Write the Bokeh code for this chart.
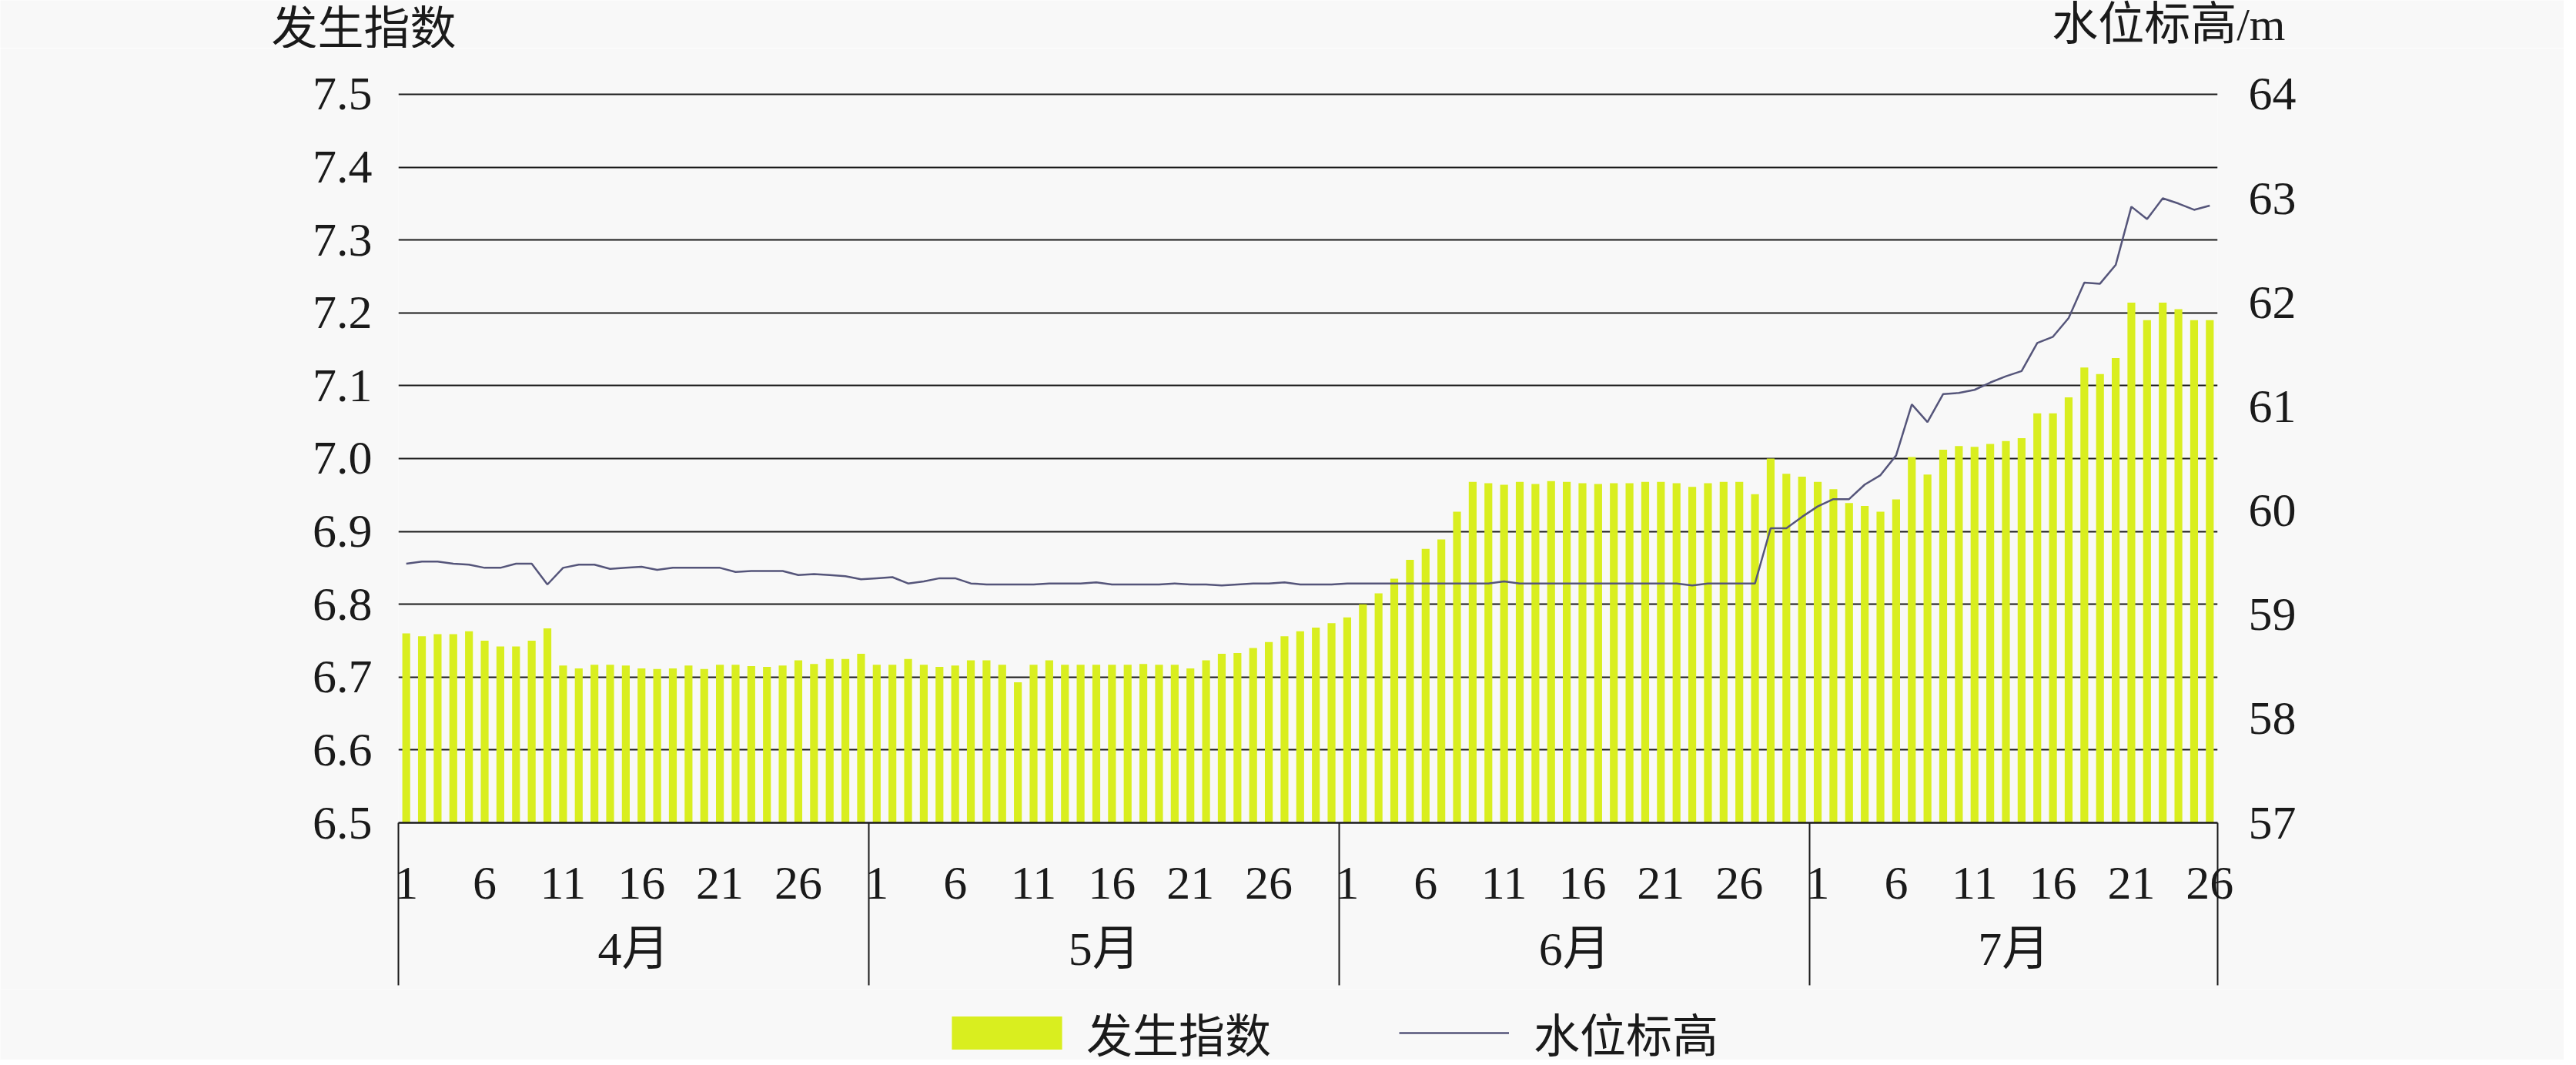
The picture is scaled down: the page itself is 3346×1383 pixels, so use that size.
from bokeh.plotting import figure
from bokeh.layouts import column
from bokeh.models import (Range1d, LinearAxis, FixedTicker, PrintfTickFormatter,
                          Label, Legend, LegendItem, ColumnDataSource, Grid)
from bokeh.embed import file_html
from bokeh.resources import INLINE

# ---------------- data ----------------
months = ["4月", "5月", "6月", "7月"]
month_days = [30, 30, 30, 26]

occ_apr = [6.760, 6.756, 6.759, 6.759, 6.763, 6.750, 6.742, 6.742, 6.750, 6.767,
           6.716, 6.712, 6.717, 6.717, 6.716, 6.712, 6.711, 6.712, 6.716, 6.711,
           6.717, 6.717, 6.715, 6.714, 6.716, 6.723, 6.718, 6.725, 6.725, 6.732]
occ_may = [6.717, 6.717, 6.725, 6.717, 6.714, 6.716, 6.723, 6.723, 6.717, 6.693,
           6.717, 6.723, 6.717, 6.717, 6.717, 6.717, 6.717, 6.718, 6.717, 6.717,
           6.712, 6.723, 6.732, 6.733, 6.740, 6.748, 6.756, 6.763, 6.768, 6.774]
occ_jun = [6.782, 6.800, 6.815, 6.835, 6.861, 6.876, 6.889, 6.927, 6.968, 6.966,
           6.964, 6.968, 6.965, 6.969, 6.968, 6.966, 6.965, 6.966, 6.966, 6.968,
           6.968, 6.966, 6.961, 6.966, 6.968, 6.968, 6.951, 7.000, 6.979, 6.975]
occ_jul = [6.968, 6.958, 6.939, 6.935, 6.927, 6.944, 7.002, 6.978, 7.012, 7.017,
           7.016, 7.020, 7.024, 7.028, 7.062, 7.062, 7.084, 7.125, 7.116, 7.138,
           7.214, 7.190, 7.214, 7.205, 7.190, 7.190]

wl_apr = [59.49, 59.51, 59.51, 59.49, 59.48, 59.45, 59.45, 59.49, 59.49, 59.29,
          59.45, 59.48, 59.48, 59.44, 59.45, 59.46, 59.43, 59.45, 59.45, 59.45,
          59.45, 59.41, 59.42, 59.42, 59.42, 59.38, 59.39, 59.38, 59.37, 59.34]
wl_may = [59.35, 59.36, 59.30, 59.32, 59.35, 59.35, 59.30, 59.29, 59.29, 59.29,
          59.29, 59.30, 59.30, 59.30, 59.31, 59.29, 59.29, 59.29, 59.29, 59.30,
          59.29, 59.29, 59.28, 59.29, 59.30, 59.30, 59.31, 59.29, 59.29, 59.29]
wl_jun = [59.30, 59.30, 59.30, 59.30, 59.30, 59.30, 59.30, 59.30, 59.30, 59.30,
          59.32, 59.30, 59.30, 59.30, 59.30, 59.30, 59.30, 59.30, 59.30, 59.30,
          59.30, 59.30, 59.28, 59.30, 59.30, 59.30, 59.30, 59.83, 59.83, 59.94]
wl_jul = [60.04, 60.11, 60.11, 60.25, 60.34, 60.53, 61.02, 60.85, 61.12, 61.13,
          61.16, 61.23, 61.29, 61.34, 61.61, 61.67, 61.85, 62.19, 62.18, 62.36,
          62.92, 62.80, 63.00, 62.95, 62.89, 62.93]

left_ticks = [6.5, 6.6, 6.7, 6.8, 6.9, 7.0, 7.1, 7.2, 7.3, 7.4, 7.5]
right_ticks = [57, 58, 59, 60, 61, 62, 63, 64]
day_label_step = 5

left_title = "发生指数"
right_title = "水位标高/m"
bar_name = "发生指数"
line_name = "水位标高"

# ---------------- assemble ----------------
occurrence = occ_apr + occ_may + occ_jun + occ_jul
water = wl_apr + wl_may + wl_jun + wl_jul
n = len(occurrence)
idx = list(range(n))
day_of = []
for nd in month_days:
    day_of += list(range(1, nd + 1))

src = ColumnDataSource(dict(x=idx, occ=occurrence, wl=water))

BG = "#F8F8F8"
INK = "#1A1A1A"
BAR = "#D9EE1F"
LINE = "#55557A"
NUM_FONT = "Liberation Serif"
CJK_FONT = "Noto Sans CJK SC"
MIX_FONT = "Liberation Serif, Noto Sans CJK SC"
FS = "62px"

W = 3330
# vertical layout of the page (page px; the page has an 8px margin)
TOP0, TOP1, TOP2, BOT = 8, 70, 1292, 1375
FRAME_T, FRAME_B = 130, 1067 + 9   # frame edges measured from fig tops (corrected)
FL, FR = 517, 2880  # frame left/right in figure px
EXTRA = 9  # rendered strip offset correction


def unalign(f):
    try:
        f.frame_align = False
    except Exception:
        pass


def bare(h):
    f = figure(width=W, height=h, output_backend="svg", toolbar_location=None,
               x_range=Range1d(0, W), y_range=Range1d(0, h),
               x_axis_location=None, y_axis_location=None,
               min_border=0, background_fill_color=BG, border_fill_color=BG,
               outline_line_color=None)
    f.grid.visible = False
    unalign(f)
    return f


# ---------- title strip ----------
H0 = TOP1 - TOP0
f0 = bare(H0)
f0.add_layout(Label(x=360 - 8, y=TOP1 - 39, text=left_title, text_font=CJK_FONT,
                    text_font_size="60px", text_color=INK,
                    text_align="left", text_baseline="middle"))
f0.add_layout(Label(x=2976 - 8, y=TOP1 - 39, text=right_title, text_font=MIX_FONT,
                    text_font_size="60px", text_color=INK,
                    text_align="right", text_baseline="middle"))

# ---------- main chart ----------
H1 = TOP2 - TOP1
ymin, ymax = left_ticks[0], left_ticks[-1]
pad = 0.002  # keeps the top gridline fully inside the frame
wmin, wmax = right_ticks[0], right_ticks[-1]
wpad = pad * (wmax - wmin) / (ymax - ymin)

p = figure(width=W, height=H1, output_backend="svg", toolbar_location=None,
           x_range=Range1d(-0.5, n - 0.5), y_range=Range1d(ymin, ymax + pad),
           x_axis_location=None, y_axis_location=None,
           min_border_left=FL, min_border_right=W - FR,
           min_border_top=FRAME_T - TOP1 - 2, min_border_bottom=TOP2 - FRAME_B,
           background_fill_color=BG, border_fill_color=BG,
           outline_line_color=None)
unalign(p)
p.grid.visible = False
p.extra_y_ranges = {"water": Range1d(wmin, wmax + wpad)}

p.add_layout(Grid(dimension=1, ticker=FixedTicker(ticks=left_ticks),
                  grid_line_color=INK, grid_line_width=2))

bars = p.vbar(x="x", top="occ", bottom=ymin, width=0.5, source=src,
              fill_color=BAR, line_color=None)
wl_line = p.line(x="x", y="wl", source=src, y_range_name="water",
                 line_color=LINE, line_width=2.5)

yaxis = LinearAxis(ticker=FixedTicker(ticks=left_ticks),
                   formatter=PrintfTickFormatter(format="%.1f"),
                   axis_line_color=None, major_tick_line_color=None,
                   minor_tick_line_color=None, major_tick_out=0, major_tick_in=0,
                   major_label_standoff=34,
                   major_label_text_font=NUM_FONT, major_label_text_font_size=FS,
                   major_label_text_color=INK)
p.add_layout(yaxis, "left")

raxis = LinearAxis(y_range_name="water", ticker=FixedTicker(ticks=right_ticks),
                   axis_line_color=None, major_tick_line_color=None,
                   minor_tick_line_color=None, major_tick_out=0, major_tick_in=0,
                   major_label_standoff=40,
                   major_label_text_font=NUM_FONT, major_label_text_font_size=FS,
                   major_label_text_color=INK)
p.add_layout(raxis, "right")

# day axis; month separators drawn as long minor ticks
SEP = 211
day_ticks = [i for i in idx if day_of[i] % day_label_step == 1]
bounds = []
acc = 0
for nd in month_days:
    bounds.append(acc - 0.5)
    acc += nd
bounds.append(acc - 0.5)
bounds[0] += 0.001
bounds[-1] -= 0.001
dayaxis = LinearAxis(ticker=FixedTicker(ticks=day_ticks, minor_ticks=bounds),
                     major_label_overrides={i: str(day_of[i]) for i in day_ticks},
                     axis_line_color=INK, axis_line_width=2.5,
                     major_tick_line_color=None, major_tick_out=0, major_tick_in=0,
                     minor_tick_line_color=INK, minor_tick_line_width=2,
                     minor_tick_out=SEP, minor_tick_in=0,
                     major_label_standoff=58 - SEP,
                     major_label_text_font=NUM_FONT, major_label_text_font_size=FS,
                     major_label_text_color=INK)
p.add_layout(dayaxis, "below")

month_centers = []
acc = 0
for nd in month_days:
    month_centers.append(acc + (nd - 1) / 2)
    acc += nd
monthaxis = LinearAxis(ticker=FixedTicker(ticks=month_centers),
                       major_label_overrides={c: m for c, m in zip(month_centers, months)},
                       axis_line_color=None, major_tick_line_color=None,
                       minor_tick_line_color=None, major_tick_out=0, major_tick_in=0,
                       major_label_standoff=28,
                       major_label_text_font=MIX_FONT, major_label_text_font_size=FS,
                       major_label_text_color=INK)
p.add_layout(monthaxis, "below")

# ---------- legend strip ----------
H2 = BOT - TOP2 + EXTRA
f2 = bare(H2)
# legend keys: zero-height proxies styled like the chart's series
bar_key = f2.vbar(x=idx[:1], top=occurrence[:1], bottom=occurrence[:1], width=1,
                  fill_color=BAR, line_color=None)
line_key = f2.line(x=idx[:1], y=water[:1], line_color=LINE, line_width=2.5)
common = dict(orientation="horizontal", padding=0, margin=0, spacing=0,
              border_line_color=None, background_fill_alpha=0,
              label_text_font=CJK_FONT, label_text_font_size="60px",
              label_text_color=INK, glyph_height=54)
leg_y = BOT - 1345 - 36 - 11 + EXTRA
f2.add_layout(Legend(items=[LegendItem(label=bar_name, renderers=[bar_key])],
                     location=(1226 - 8, leg_y), glyph_width=179,
                     label_standoff=14, **common))
f2.add_layout(Legend(items=[LegendItem(label=line_name, renderers=[line_key])],
                     location=(1825 - 8, leg_y), glyph_width=143,
                     label_standoff=32, **common))

layout = column(f0, p, f2, spacing=0)
open("out.html", "w").write(file_html(layout, INLINE))
